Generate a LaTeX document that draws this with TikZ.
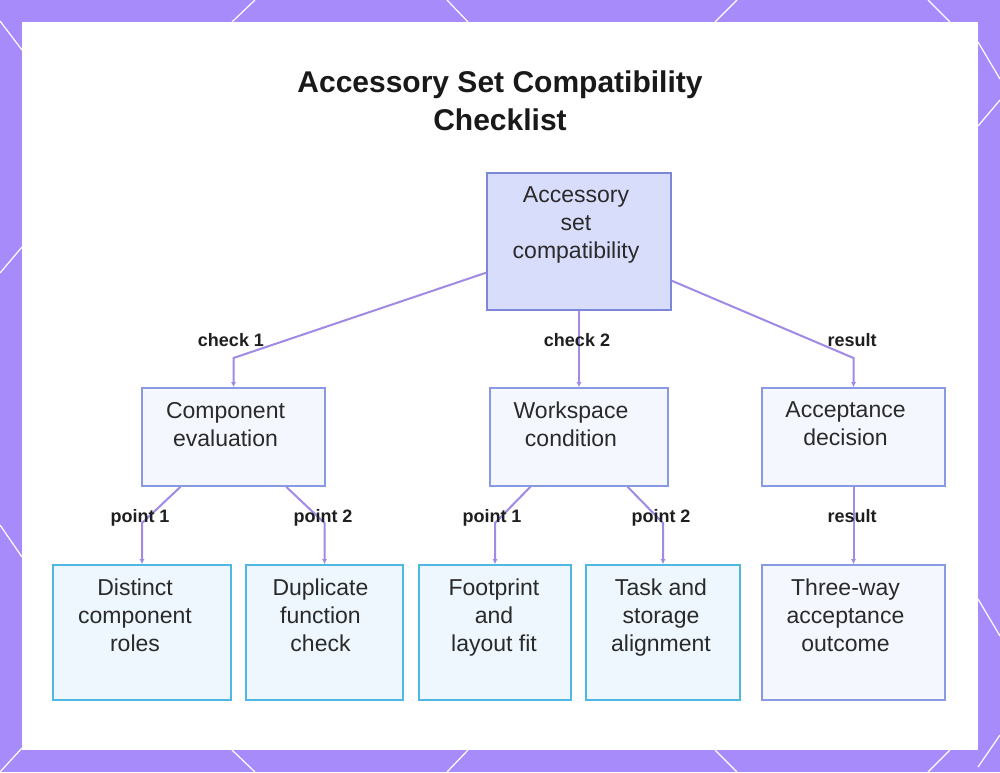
\documentclass[tikz,border=0pt]{standalone}
\usepackage{fontspec}
\setmainfont{Liberation Sans}
\usetikzlibrary{arrows.meta}

\definecolor{bgpurple}{HTML}{A78BFA}
\definecolor{linkcol}{HTML}{A08AE6}
\definecolor{rootfill}{HTML}{D9DDFC}
\definecolor{rootline}{HTML}{7D87D8}
\definecolor{midfill}{HTML}{F5F7FE}
\definecolor{midline}{HTML}{8A9AE2}
\definecolor{leaffill}{HTML}{EEF7FE}
\definecolor{leafline}{HTML}{4FB8E2}
\definecolor{inktext}{HTML}{2A2A2A}

% box text: width, height, right offset, lines
\newcommand{\boxtext}[4]{\parbox[c][#2][t]{#1}{\centering\rightskip=#3 plus 1fil\baselineskip=28pt\vspace*{14pt}#4\par}}

\begin{document}
\begin{tikzpicture}[x=1pt,y=-1pt,>={Latex[length=5pt,width=5pt]},
  rootbox/.style={draw=rootline,fill=rootfill,line width=1.6pt,inner sep=0pt,font=\fontsize{23}{28}\selectfont,text=inktext},
  midbox/.style={draw=midline,fill=midfill,line width=1.6pt,inner sep=0pt,font=\fontsize{23}{28}\selectfont,text=inktext},
  leafbox/.style={draw=leafline,fill=leaffill,line width=1.6pt,inner sep=0pt,font=\fontsize{23}{28}\selectfont,text=inktext},
  link/.style={draw=linkcol,line width=2pt},
  lbl/.style={anchor=base,font=\fontsize{18}{20}\selectfont\bfseries,text=black!88}]

\useasboundingbox (0,0) rectangle (1000,772);
\fill[bgpurple] (0,0) rectangle (1000,772);

% border lines
\foreach \a/\b in {232/255,468/447,715/737,950/928}
{
    \draw[white,line width=1.2pt] (\a,22)--(\b,0);
    \draw[white,line width=1.2pt] (\a,750)--(\b,772);
}
\foreach \a/\b in {21/50,273/247,525/557,772/748}
{
    \draw[white,line width=1.2pt] (0,\a)--(22,\b);
}
\foreach \a/\b in {42/79,126/100,599/636,767/735}
{
    \draw[white,line width=1.2pt] (978,\a)--(1000,\b);
}

\fill[white] (22,22) rectangle (978,750);

\node[font=\fontsize{30}{38}\selectfont\bfseries,text=black!90,align=center] (title) at (500,101) {Accessory Set Compatibility\\Checklist};

\node[rootbox] (root) at (579,241.5) {\boxtext{184pt}{137pt}{6pt}{Accessory\\set\\compatibility}};

\node[midbox] (comp) at (233.5,437) {\boxtext{183pt}{98pt}{16pt}{Component\\evaluation}};
\node[midbox] (work) at (579,437) {\boxtext{178pt}{98pt}{16pt}{Workspace\\condition}};
\node[midbox] (accept) at (853.5,437) {\boxtext{183pt}{98pt}{16pt}{Acceptance\\decision}};

\node[leafbox] (dist) at (142,632.5) {\boxtext{178pt}{135pt}{14pt}{Distinct\\component\\roles}};
\node[leafbox] (dup) at (324.5,632.5) {\boxtext{157pt}{135pt}{8pt}{Duplicate\\function\\check}};
\node[leafbox] (foot) at (495,632.5) {\boxtext{152pt}{135pt}{2pt}{Footprint\\and\\layout fit}};
\node[leafbox] (task) at (663,632.5) {\boxtext{154pt}{135pt}{4pt}{Task and\\storage\\alignment}};
\node[midbox] (three) at (853.5,632.5) {\boxtext{183pt}{135pt}{16pt}{Three-way\\acceptance\\outcome}};

\coordinate (k1) at (233.5,358);
\coordinate (k3) at (853.5,358);
\coordinate (k11) at (142,523);
\coordinate (k12) at (324.5,523);
\coordinate (k21) at (495,523);
\coordinate (k22) at (663,523);

\draw[link,->] (root) -- (k1) -- (comp);
\draw[link,->] (root) -- (work);
\draw[link,->] (root) -- (k3) -- (accept);

\draw[link,->] (comp) -- (k11) -- (dist);
\draw[link,->] (comp) -- (k12) -- (dup);
\draw[link,->] (work) -- (k21) -- (foot);
\draw[link,->] (work) -- (k22) -- (task);
\draw[link,->] (accept) -- (three);

\node[lbl] (l1) at (231,346) {check 1};
\node[lbl] (l2) at (577,346) {check 2};
\node[lbl] (l3) at (852,346) {result};
\node[lbl] (l11) at (140,522) {point 1};
\node[lbl] (l12) at (323,522) {point 2};
\node[lbl] (l21) at (492,522) {point 1};
\node[lbl] (l22) at (661,522) {point 2};
\node[lbl] (l4) at (852,522) {result};

\end{tikzpicture}
\end{document}
